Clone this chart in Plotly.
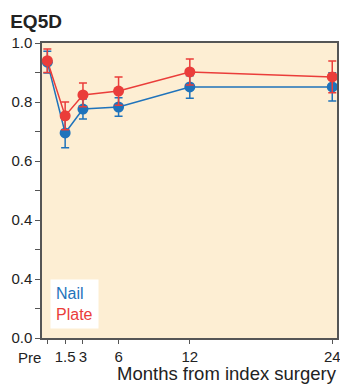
import plotly.graph_objects as go

months = [0, 1.5, 3, 6, 12, 24]
x_tick_labels = ["", "1.5", "3", "6", "12", "24"]
first_label = "Pre"
nail = [0.935, 0.695, 0.776, 0.783, 0.851, 0.851]
nail_err = [0.037, 0.05, 0.034, 0.031, 0.038, 0.048]
plate = [0.94, 0.753, 0.824, 0.837, 0.902, 0.885]
plate_err = [0.04, 0.047, 0.04, 0.048, 0.044, 0.054]
y_tick_vals = [1.0, 0.8, 0.6, 0.4, 0.2, 0.0]
y_tick_labels = ["1.0", "0.8", "0.6", "0.4", "0.4", "0.0"]
y_minor_vals = [0.9, 0.7, 0.5, 0.3, 0.1]

BLUE = "#1f73bb"
RED = "#ea3d3a"
BG = "#fdeed3"
FONT = "Liberation Sans, Arial, sans-serif"
TXT = "#222"

fig = go.Figure()
for name, vals, errs, col in [("Nail", nail, nail_err, BLUE), ("Plate", plate, plate_err, RED)]:
    fig.add_trace(go.Scatter(
        x=months, y=vals, name=name, mode="lines+markers",
        line=dict(color=col, width=1.5),
        marker=dict(color=col, size=11),
        error_y=dict(type="data", array=errs, visible=True, color=col, thickness=1.5, width=4),
        showlegend=False,
    ))

# legend box
fig.add_annotation(
    x=0.027, y=0.03, xref="paper", yref="paper", xanchor="left", yanchor="bottom",
    text=f"<span style='color:{BLUE}'>Nail</span><br><span style='color:{RED}'>Plate</span>",
    showarrow=False, align="left", bgcolor="white", borderpad=5,
    font=dict(family=FONT, size=16),
)
# "Pre" tick label (sits left of its tick)
fig.add_annotation(
    x=0.003, y=-0.03, xref="paper", yref="paper", xanchor="right", yanchor="top",
    text=first_label, showarrow=False, font=dict(family=FONT, size=15, color=TXT),
)
# x axis title
fig.add_annotation(
    x=1.005, y=-0.158, xref="paper", yref="paper", xanchor="right", yanchor="bottom",
    text="Months from index surgery", showarrow=False, borderpad=0,
    font=dict(family=FONT, size=18.5, color=TXT),
)

fig.update_layout(
    width=340, height=384,
    margin=dict(l=42, r=3, t=43, b=46, autoexpand=False),
    plot_bgcolor=BG, paper_bgcolor="white",
    font=dict(family=FONT, size=15, color=TXT),
    title=dict(text="<b>EQ5D</b>", x=0.03, xanchor="left", y=0.945, yanchor="middle",
               font=dict(family=FONT, size=19, color=TXT)),
)
fig.update_xaxes(
    range=[-0.45, 24.4], tickvals=months, ticktext=x_tick_labels, tickangle=0,
    ticks="outside", ticklen=4, tickcolor="#555", showgrid=False, zeroline=False,
    showline=True, linecolor="#555", linewidth=1.5, mirror=True,
    tickfont=dict(size=15, color=TXT), automargin=False, ticklabeloverflow="allow",
)
fig.update_yaxes(
    range=[0, 1.0], tickvals=y_tick_vals, ticktext=y_tick_labels,
    ticks="outside", ticklen=5, tickcolor="#555", showgrid=False, zeroline=False,
    showline=True, linecolor="#555", linewidth=1.5, mirror=True,
    minor=dict(tickvals=y_minor_vals, ticks="outside", ticklen=5, tickcolor="#555"),
    tickfont=dict(size=15, color=TXT), automargin=False,
)
fig.write_html("out.html", config={"displayModeBar": False},
               post_script="document.body.style.margin='0';")
